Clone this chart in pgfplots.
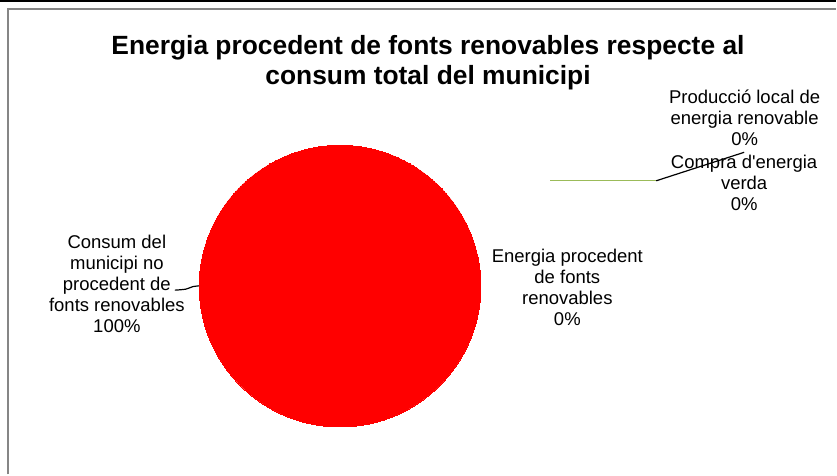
\documentclass[border=0pt]{standalone}
\usepackage{pgfplots}
\pgfplotsset{compat=1.18}
\usepackage{fontspec}
\setmainfont{Liberation Sans}[Ligatures=TeXOff]
\definecolor{pieRed}{RGB}{255,0,0}
\definecolor{frameGray}{RGB}{134,134,134}
\definecolor{leadGreen}{RGB}{155,187,89}
\begin{document}
\begin{tikzpicture}
\begin{axis}[
  width=837bp, height=475bp, scale only axis,
  xmin=0, xmax=837, ymin=0, ymax=475, y dir=reverse,
  hide axis, clip=false,
]
% frame
\fill[black] (axis cs:0,0) rectangle (axis cs:837,2.5);
\draw[frameGray, line width=2bp] (axis cs:8.3,475) -- (axis cs:8.3,9) -- (axis cs:837,9);
% pie: one slice holding 100% of the total
\addplot[only marks, mark=*, mark size=141bp, color=pieRed, mark options={fill=pieRed, draw=pieRed, line width=0pt}] coordinates {(340.5,286.5)};
% leader lines
\addplot[black, line width=1.2bp, smooth, mark=none] coordinates {(175,290.5) (186,289.5) (193,287) (201,286)};
\addplot[leadGreen, line width=1bp, mark=none] coordinates {(551,181) (657,181)};
\addplot[black, line width=1.2bp, mark=none] coordinates {(657,181) (745,152.5)};
% title
\node[align=center, font=\fontsize{26.4bp}{30bp}\selectfont\bfseries] at (axis cs:428.5,63) {Energia procedent de fonts renovables respecte al\\consum total del municipi};
% labels
\node[align=center, font=\fontsize{18.5bp}{21bp}\selectfont] at (axis cs:117,284.5) {Consum del\\municipi no\\procedent de\\fonts renovables\\100\%};
\node[align=center, font=\fontsize{18.5bp}{21bp}\selectfont] at (axis cs:568,288) {Energia procedent\\de fonts\\renovables\\0\%};
\node[align=center, font=\fontsize{18.5bp}{21bp}\selectfont] at (axis cs:745.5,118) {Producció local de\\energia renovable\\0\%};
\node[align=center, font=\fontsize{18.5bp}{21bp}\selectfont] at (axis cs:745,183) {Compra d'energia\\verda\\0\%};
\end{axis}
\path (current axis.south west) rectangle (current axis.north east);
\end{tikzpicture}
\end{document}
